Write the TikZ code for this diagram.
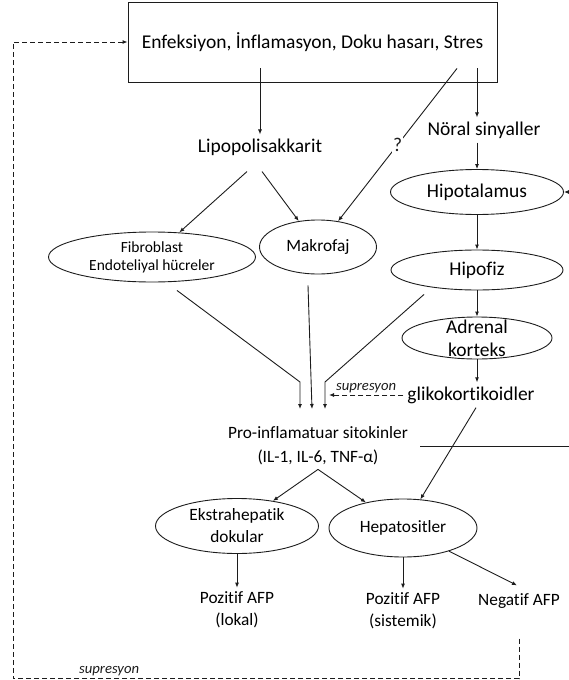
\documentclass[tikz,border=0pt]{standalone}
\usepackage{fontspec}
\setmainfont{Carlito}[Ligatures={NoCommon,NoContextual}]
\usetikzlibrary{arrows.meta,positioning,shapes.geometric}
\definecolor{InkGray}{RGB}{28,28,28}
\newcommand{\fontbig}{\fontsize{19.5}{23}\selectfont}
\newcommand{\fontmid}{\fontsize{17.3}{22}\selectfont}
\newcommand{\fontsmall}{\fontsize{15.5}{18}\selectfont}
\newcommand{\fontsup}{\fontsize{14.7}{17}\selectfont\itshape}
\tikzset{
  causebox/.style={draw=InkGray,line width=0.9pt,minimum width=369pt,
    minimum height=80pt,inner sep=0pt,font=\fontbig},
  organ/.style={ellipse,draw=InkGray,line width=0.9pt,inner sep=0pt,
    align=center,font=\fontbig},
  signal/.style={inner sep=4pt,align=center,font=\fontbig},
  qmark/.style={fill=white,inner sep=1pt,font=\fontbig},
  suplabel/.style={inner sep=2pt,font=\fontsup},
  arrow/.style={-{Latex[length=5pt,width=4pt]},line width=0.9pt,InkGray},
  suparrow/.style={arrow,dash pattern=on 5pt off 3pt}
}
\begin{document}
\begin{tikzpicture}[x=1pt,y=1pt,on grid]
      \useasboundingbox (0,0) rectangle (568,-680);
      \node[causebox] (cause) at (312.5,-42) {Enfeksiyon, İnflamasyon, Doku hasarı, Stres};
      \node[signal,below left=105pt and 52.5pt of cause] (lipo) {Lipopolisakkarit};
      \node[organ,below right=150pt and 164.5pt of cause,minimum width=173pt,minimum height=45pt] (hipot) {Hipotalamus};
      \node[signal,above right=62pt and 7pt of hipot] (neural) {Nöral sinyaller};
      \node[organ,below=78pt of hipot,minimum width=172pt,minimum height=40pt] (hipofiz) {Hipofiz};
      \node[organ,below=68pt of hipofiz,minimum width=150pt,minimum height=42pt,inner ysep=-3.5pt] (adrenal) {Adrenal\\korteks};
      \node[signal,below left=57pt and 6pt of adrenal] (gliko) {glikokortikoidler};
      \node[organ,below right=100pt and 58pt of lipo,minimum width=117pt,minimum height=54pt,font=\fontmid] (makro) {Makrofaj};
      \node[organ,below left=110pt and 108pt of lipo,minimum width=207pt,minimum height=50pt,font=\fontsmall] (fibro) {Fibroblast\\Endoteliyal hücreler};
      \node[signal,below=199pt of makro,font=\fontsize{17.3}{24}\selectfont] (cytok) {Pro-inflamatuar sitokinler\\(IL-1, IL-6, TNF-α)};
      \node[organ,below left=80pt and 81pt of cytok,minimum width=163pt,minimum height=55pt,font=\fontmid] (ekstra) {Ekstrahepatik\\dokular};
      \node[organ,below right=82pt and 85pt of cytok,minimum width=148pt,minimum height=58pt,font=\fontmid] (hepato) {Hepatositler};
      \node[signal,below=84pt of ekstra,font=\fontmid] (pozlok) {Pozitif AFP\\(lokal)};
      \node[signal,below=83pt of hepato,font=\fontmid] (pozsis) {Pozitif AFP\\(sistemik)};
      \node[signal,below right=73pt and 116pt of hepato,font=\fontmid] (negatif) {Negatif AFP};
      \coordinate[above left=64pt and 18pt of cytok] (bendA);
      \coordinate[above left=37pt and 18pt of cytok] (inA);
      \coordinate[above left=37pt and 6pt of cytok] (inB);
      \coordinate[above right=64pt and 7pt of cytok] (bendC);
      \coordinate[above right=37pt and 7pt of cytok] (inC);
      \coordinate[right=4pt of inC] (supTip);
      \draw[arrow] ([yshift=14pt]cause.south -| lipo) -- (lipo);
      \draw[arrow] ([yshift=14pt]cause.south -| hipot) -- (neural.north -| hipot);
      \draw[arrow] ([shift={(144.5pt,14pt)}]cause.south) -- node[qmark]{?} (makro);
      \draw[arrow] (neural.south -| hipot) -- (hipot);
      \draw[arrow] ([shift={(-13pt,-12pt)}]lipo.south) -- (fibro);
      \draw[arrow] ([shift={(2pt,-12pt)}]lipo.south) -- (makro);
      \draw[arrow] (hipot) -- (hipofiz);
      \draw[arrow] (hipofiz) -- (adrenal);
      \draw[arrow] (adrenal) -- (adrenal |- gliko.north);
      \draw[arrow] ([shift={(25pt,-8pt)}]fibro.south) -- (bendA) -- (inA);
      \draw[arrow] ([shift={(-10pt,-11pt)}]makro.south) -- (inB);
      \draw[arrow] ([shift={(-53pt,-4pt)}]hipofiz.south) -- (bendC) -- (inC);
      \draw[suparrow] (gliko.west) -- node[suplabel,above]{supresyon} (gliko.west -| supTip);
      \draw[arrow] ([xshift=5pt]gliko.south) -- (hepato);
      \draw[arrow] (cytok.south) -- (ekstra);
      \draw[arrow] (cytok.south) -- (hepato);
      \draw[arrow] (ekstra) -- (pozlok);
      \draw[arrow] (hepato) -- (pozsis);
      \draw[arrow] (hepato) -- ([shift={(-2pt,4pt)}]negatif.north);
      \draw[arrow] ([xshift=8pt]cytok.east) -- ++(180pt,0) |- (hipot.east);
      \draw[suparrow] ([yshift=-26pt]negatif.south) -- ++(0,-40) -- node[suplabel,pos=0.81,above]{supresyon} ++(-506,0) |- (cause.west);
    \end{tikzpicture}
\end{document}
